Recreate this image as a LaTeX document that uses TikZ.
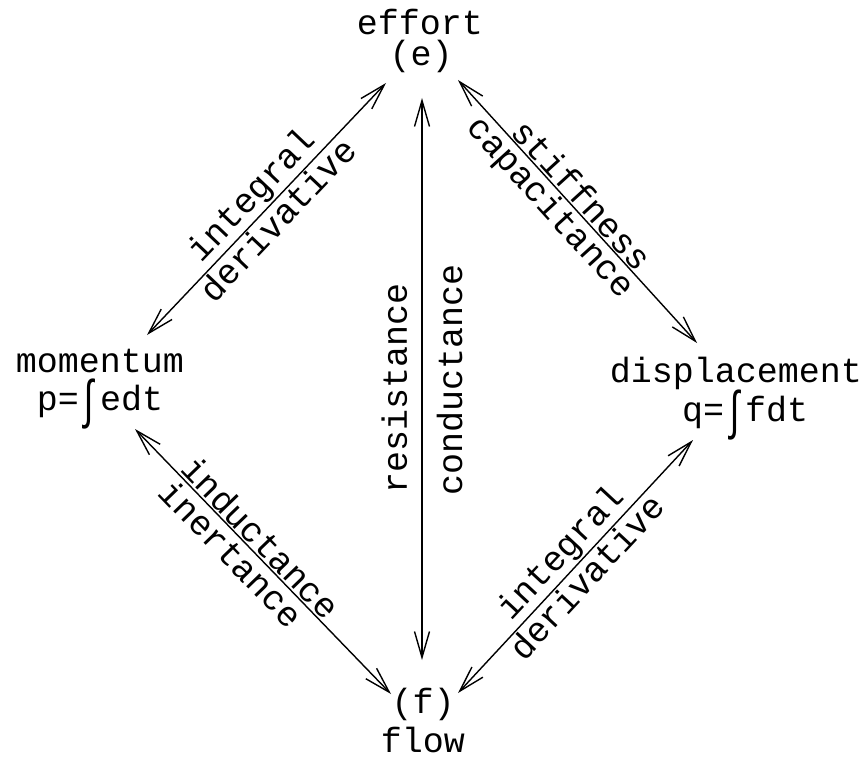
\documentclass[tikz,border=0pt]{standalone}
\usepackage{fontspec}
\usepackage{graphicx}
\newfontfamily\cadfont{Liberation Mono}
\usetikzlibrary{arrows.meta}
\newcommand{\intsign}{\raisebox{-0.2em}{\scalebox{1}[1.5]{∫}}}
\begin{document}
\begin{tikzpicture}[x=1pt,y=-1pt,
  txt/.style={font=\cadfont\fontsize{35}{30}\selectfont, inner sep=0pt, anchor=base},
  conn/.style={line width=1.4pt, {Straight Barb[length=26pt,width=15pt]}-{Straight Barb[length=26pt,width=15pt]}},
  lab/.style={font=\cadfont\fontsize{35}{30}\selectfont, sloped, inner sep=1.5pt},
  vlab/.style={font=\cadfont\fontsize{35}{30}\selectfont, sloped, inner sep=14pt}]
\useasboundingbox (0,0) rectangle (864,757);
% nodes
\node[txt] (effort) at (420,35) {effort};
\node[txt] (e) at (421,66) {(e)};
\node[txt] (momentum) at (100,372) {momentum};
\node[txt] (p) at (100,410) {p=\intsign edt};
\node[txt] (displacement) at (736,382) {displacement};
\node[txt] (q) at (745,421) {q=\intsign fdt};
\node[txt] (f) at (423,713) {(f)};
\node[txt] (flow) at (423,752) {flow};
% connector end points
\coordinate (eL) at (386,83);
\coordinate (eB) at (422,98);
\coordinate (eR) at (458,80);
\coordinate (mT) at (147,335);
\coordinate (mB) at (135,429);
\coordinate (dT) at (697,343);
\coordinate (dB) at (693,440);
\coordinate (fL) at (391,694);
\coordinate (fT) at (422,660);
\coordinate (fR) at (458,693);
% connectors
\draw[conn] (mT) -- node[lab, above, pos=0.5]{integral} node[lab, below, pos=0.5]{derivative} (eL);
\draw[conn] (eR) -- node[lab, above, pos=0.475]{stiffness} node[lab, below, pos=0.44]{capacitance} (dT);
\draw[conn] (fT) -- node[vlab, above, pos=0.484]{resistance} node[vlab, below, pos=0.498]{conductance} (eB);
\draw[conn] (mB) -- node[lab, above, pos=0.45]{inductance} node[lab, below, pos=0.425, inner sep=3.5pt]{inertance} (fL);
\draw[conn] (fR) -- node[lab, above, pos=0.5]{integral} node[lab, below, pos=0.5]{derivative} (dB);
\end{tikzpicture}
\end{document}
